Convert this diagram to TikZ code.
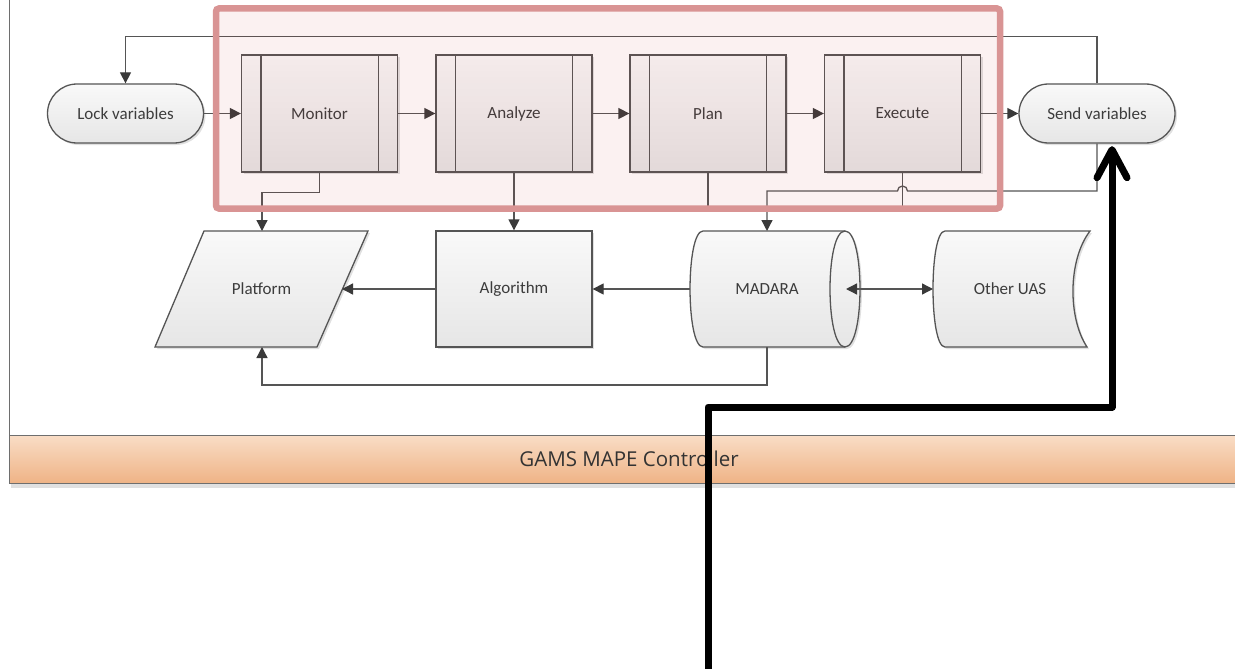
\documentclass[tikz,border=0pt]{standalone}
\usepackage{fontspec}
\setmainfont{Carlito}
\newfontfamily\bandfont{Open Sans}
\usetikzlibrary{shapes.misc,arrows.meta,calc}
\definecolor{linec}{HTML}{555555}
\definecolor{tipc}{HTML}{3A3A3A}
\definecolor{txtc}{HTML}{3C3C3C}
\definecolor{boxtop}{HTML}{F9F9F9}
\definecolor{boxbot}{HTML}{E6E6E6}
\definecolor{hiline}{HTML}{D99494}
\definecolor{hifill}{HTML}{C83C3C}
\definecolor{bandtop}{HTML}{F9DDC6}
\definecolor{bandbot}{HTML}{EFB386}
\definecolor{bandedge}{HTML}{6E6E6E}
\begin{document}
\begin{tikzpicture}[x=1pt,y=-1pt,
  lbl/.style={font=\fontsize{17}{20}\selectfont, text=txtc},
  shade/.style={top color=boxtop,bottom color=boxbot},
  outline/.style={draw=linec,line width=1.3pt},
  dropsh/.style={preaction={fill=black,fill opacity=.12,transform canvas={xshift=2pt,yshift=-2pt}}},
  terminal/.style={rounded rectangle, outline, shade, dropsh, minimum width=156pt, minimum height=59pt, inner sep=0pt, lbl},
  procbox/.style={rectangle, outline, shade, dropsh, minimum width=156pt, minimum height=117pt, inner sep=0pt, lbl},
  flow/.style={draw=linec,line width=1.3pt,-{Triangle[length=11pt,width=11pt,color=tipc]}},
  twoway/.style={draw=linec,line width=1.3pt,{Triangle[length=11pt,width=11pt,color=tipc]}-{Triangle[length=11pt,width=11pt,color=tipc]}},
  plain/.style={draw=linec,line width=1.3pt},
  heavy/.style={draw=black,line width=7pt,line join=round,line cap=round},
]
\useasboundingbox (0,0) rectangle (1235,669);
\fill[white] (0,0) rectangle (1235,669);

% swimlane frame and controller band
\draw[bandedge, line width=1pt] (9,0) -- (9,435);
\fill[black, fill opacity=.12] (11,483) rectangle (1235,488);
\path[draw=bandedge, line width=1pt, top color=bandtop, bottom color=bandbot] (9,435) rectangle (1238,483);
\node[font=\bandfont\fontsize{20.5}{22}\selectfont, text=black!80] (band) at (629,459) {GAMS MAPE Controller};

% MAPE loop
\node[terminal] (lock) at (125.5,113.5) {Lock variables};
\node[procbox] (mon) at (319.5,113.5) {Monitor};
\node[procbox] (ana) at (514,113.5) {Analyze};
\node[procbox] (pln) at (708,113.5) {Plan};
\node[procbox] (exe) at (902.5,113.5) {Execute};
\node[terminal] (send) at (1097,113.5) {Send variables};
\foreach \b in {mon,ana,pln,exe}{
  \draw[plain] ($(\b.north west)+(20,0)$) -- ($(\b.south west)+(20,0)$);
  \draw[plain] ($(\b.north east)+(-20,0)$) -- ($(\b.south east)+(-20,0)$);
}

% lower row
\node[procbox, minimum height=116pt] (alg) at (514,289) {Algorithm};
\path[outline, shade, dropsh] (204,231) -- (368,231) -- (317,347) -- (155,347) -- cycle;
\node[lbl] (plat) at (261.5,289) {Platform};
\coordinate (platN) at (262,231);
\coordinate (platS) at (262,347);
\coordinate (platE) at (342,289);

% MADARA: horizontal drum
\path[outline, shade, dropsh] (703,231) -- (845,231)
  .. controls (865,231) and (865,347) .. (845,347) -- (703,347)
  .. controls (685.7,347) and (685.7,231) .. (703,231) -- cycle;
\draw[plain] (845,231) .. controls (825,231) and (825,347) .. (845,347);
\node[lbl] (mad) at (767,289) {MADARA};
\coordinate (madN) at (767,231);
\coordinate (madS) at (767,347);
\coordinate (madW) at (690,289);
\coordinate (madE) at (846,289);

% Other UAS: stored data
\path[outline, shade, dropsh] (945,231) -- (1090,231)
  .. controls (1067.8,260) and (1067.8,318) .. (1087,347) -- (945,347)
  .. controls (929,347) and (929,231) .. (945,231) -- cycle;
\node[lbl] (uas) at (1010,289) {Other UAS};
\coordinate (uasW) at (933,289);

% connectors
\draw[flow] (lock.east) -- (mon.west);
\draw[flow] (mon.east) -- (ana.west);
\draw[flow] (ana.east) -- (pln.west);
\draw[flow] (pln.east) -- (exe.west);
\draw[flow] (exe.east) -- (send.west);
\draw[flow] (send.north) -- ++(0,-47) -| (lock.north);
\draw[plain] (pln.south) -- ++(0,35);
\draw[plain] (exe.south) -- ++(0,35);
\draw[flow] (send.south) -- (send.south |- 0,191) -- ($(exe.south |- 0,191)+(5,0)$) arc(0:-180:5) -- (madN |- 0,191) -- (madN);
\draw[flow] (mon.south) -- ++(0,20) -| (platN);
\draw[flow] (ana.south) -- (alg.north);
\draw[flow] (alg.west) -- (platE);
\draw[flow] (madW) -- (alg.east);
\draw[twoway] (madE) -- (uasW);
\draw[flow] (madS) -- ++(0,38) -| (platS);

% highlighted MAPE stages
\draw[hiline, line width=6.5pt, rounded corners=3pt, fill=hifill, fill opacity=0.07] (216,8.5) rectangle (1000,208.5);

% heavy pointer to Send variables
\coordinate (btip) at ($(send.south)+(15,6)$);
\coordinate (bstart) at (708,675);
\draw[heavy, line cap=butt] (bstart) |- (btip |- 0,407) -- ($(btip)+(0,4)$);
\draw[heavy] ($(btip)+(-15,28)$) -- (btip) -- ($(btip)+(15,28)$);
\end{tikzpicture}
\end{document}
